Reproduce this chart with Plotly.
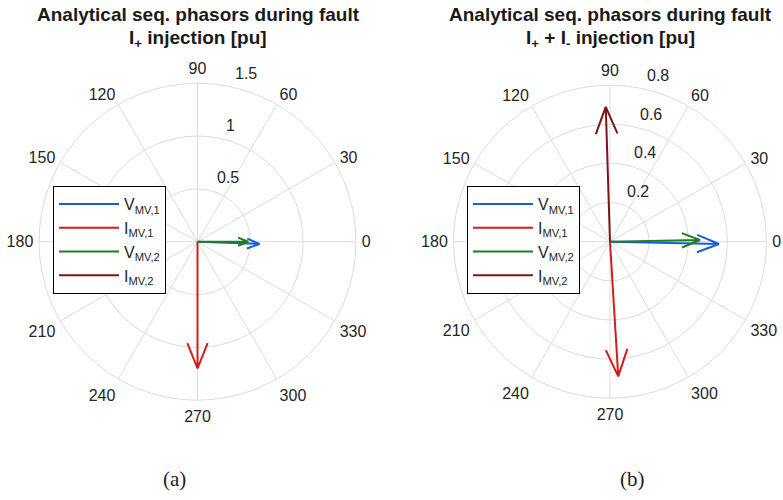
import numpy as np
import plotly.graph_objects as go

# ---- data ----
series_names = ["V<sub>MV,1</sub>", "I<sub>MV,1</sub>", "V<sub>MV,2</sub>", "I<sub>MV,2</sub>"]
series_colors = ["#1b5fd6", "#d21c1c", "#1f7f1f", "#7a1518"]

# (a) I+ injection
a_mag = [0.587, 1.20, 0.48, 0.0]
a_ang = [-2.1, -90.0, 0.0, 0.0]
# (b) I+ + I- injection
b_mag = [0.557, 0.69, 0.46, 0.69]
b_ang = [-1.2, -86.5, 1.1, 91.8]

angle_ticks = list(range(0, 360, 30))
a_rticks = [0.5, 1, 1.5]
b_rticks = [0.2, 0.4, 0.6, 0.8]
a_rmax = 1.5
b_rmax = 0.8
r_label_angle = 80


def arrow(mag, ang):
    """MATLAB compass-style arrow: shaft plus open head, returned in polar coords."""
    z = mag * np.exp(1j * np.deg2rad(ang))
    pts = np.array([0, z, 0.8 * z + 0.08j * z, z, 0.8 * z - 0.08j * z])
    r = np.abs(pts)
    th = np.rad2deg(np.angle(pts))
    return r, th


fig = go.Figure()
for mags, angs, sub, leg in [(a_mag, a_ang, "polar", "legend"), (b_mag, b_ang, "polar2", "legend2")]:
    for i, (name, col, m, a) in enumerate(zip(series_names, series_colors, mags, angs)):
        r, th = arrow(m, a)
        fig.add_trace(go.Scatterpolar(
            r=r, theta=th, mode="lines", name=name,
            line=dict(color=col, width=2), subplot=sub, legend=leg,
            legendgroup=f"{leg}_{i}", hoverinfo="skip"))

W, H = 783, 500
grid = "#dcdcdc"
txt = "#262626"
font = dict(family="Liberation Sans, Arial, sans-serif", size=16, color=txt)


def px(x):
    return x / W


def py(y):
    return 1 - y / H


def polar_layout(cx, cy, R, rmax, rticks):
    return dict(
        domain=dict(x=[px(cx - R), px(cx + R)], y=[py(cy + R), py(cy - R)]),
        bgcolor="white",
        angularaxis=dict(
            direction="counterclockwise", rotation=0,
            tickvals=angle_ticks, ticktext=[str(t) for t in angle_ticks],
            ticks="outside", ticklen=2, tickcolor="rgba(0,0,0,0)",
            showgrid=True, gridcolor=grid, gridwidth=1,
            showline=True, linecolor=grid, linewidth=1,
            tickfont=font),
        radialaxis=dict(
            range=[0, rmax], tickvals=rticks,
            showticklabels=False, angle=r_label_angle, showline=False, ticks="",
            showgrid=True, gridcolor=grid, gridwidth=1),
    )


legend_common = dict(
    bgcolor="white", bordercolor="black", borderwidth=1,
    font=dict(family="Liberation Sans, Arial, sans-serif", size=16, color=txt),
    xanchor="left", yanchor="top", itemclick=False, itemdoubleclick=False,
    tracegroupgap=0, itemwidth=60,
)

polars = [(197.5, 241.7, 158.5, a_rmax, a_rticks), (610, 241.7, 156.5, b_rmax, b_rticks)]

fig.update_layout(
    width=W, height=H,
    margin=dict(l=0, r=0, t=0, b=0),
    paper_bgcolor="white",
    showlegend=True,
    polar=polar_layout(*polars[0]),
    polar2=polar_layout(*polars[1]),
    legend=dict(x=px(53), y=py(186), **legend_common),
    legend2=dict(x=px(467), y=py(186), **legend_common),
)

# radial tick labels, MATLAB style: horizontal, just above/right of the 80-degree line
ca, sa = np.cos(np.deg2rad(r_label_angle)), np.sin(np.deg2rad(r_label_angle))
for cx, cy, R, rmax, rticks in polars:
    for t in rticks:
        rp = t / rmax * R
        fig.add_annotation(x=px(cx + rp * ca + 8), y=py(cy - rp * sa - 12),
                           xref="paper", yref="paper", text=f"{t:g}", showarrow=False,
                           font=font, xanchor="left", yanchor="middle")

title_font = dict(family="Liberation Sans, Arial, sans-serif", size=19, color="#1a1a1a")
for cx, sub in [(198, "I<sub>+</sub> injection [pu]"), (610, "I<sub>+</sub> + I<sub>-</sub> injection [pu]")]:
    fig.add_annotation(x=px(cx), y=py(14), xref="paper", yref="paper",
                       text="<b>Analytical seq. phasors during fault</b>",
                       showarrow=False, font=title_font, xanchor="center", yanchor="middle")
    fig.add_annotation(x=px(cx), y=py(39), xref="paper", yref="paper",
                       text="<b>" + sub + "</b>",
                       showarrow=False, font=title_font, xanchor="center", yanchor="middle")

cap_font = dict(family="Liberation Serif, DejaVu Serif, serif", size=21, color="#222222")
for cx, t in [(174, "(a)"), (632, "(b)")]:
    fig.add_annotation(x=px(cx), y=py(479), xref="paper", yref="paper", text=t,
                       showarrow=False, font=cap_font, xanchor="center", yanchor="middle")

# remove the browser's default 8px body margin so the figure sits at the page origin
fig.write_html("out.html", config={"displayModeBar": False},
               post_script="document.body.style.margin='0';")
